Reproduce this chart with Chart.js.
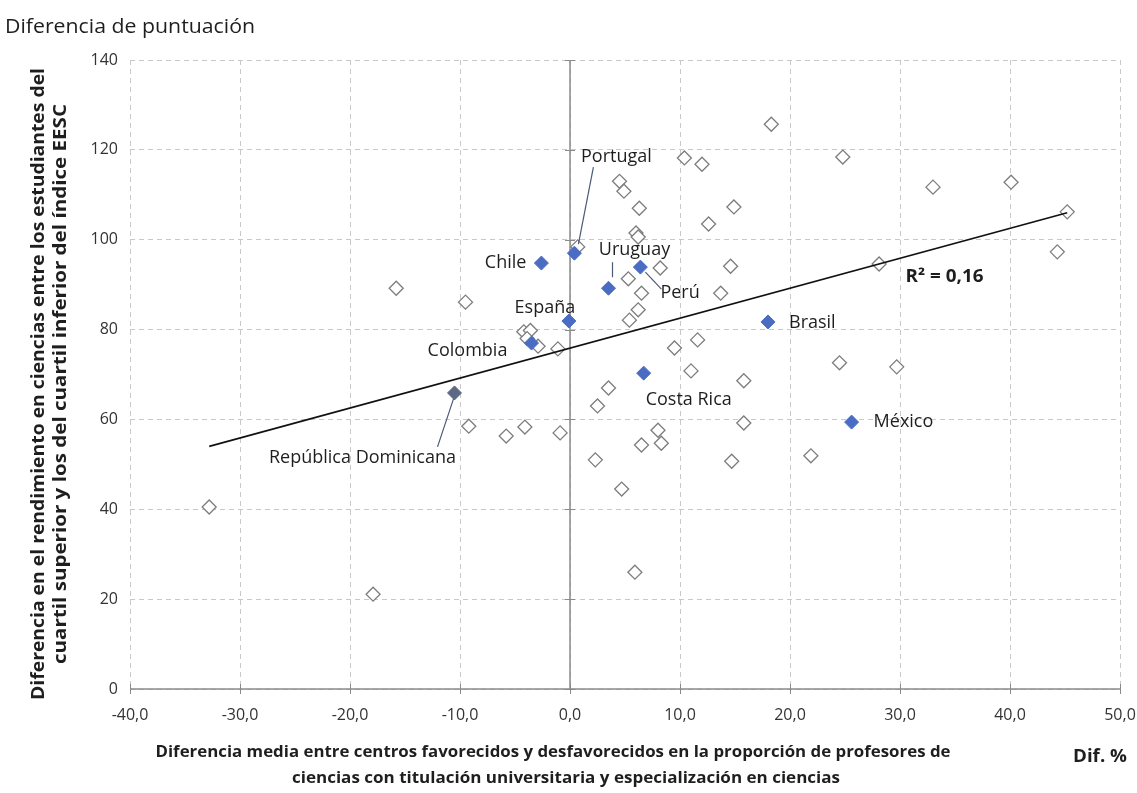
<!DOCTYPE html>
<html>
<head>
<meta charset="utf-8">
<script src="https://cdn.jsdelivr.net/npm/chart.js@4/dist/chart.umd.min.js"></script>
<style>
  html, body { margin: 0; padding: 0; background: #ffffff; }
  #wrap { width: 1137px; height: 793px; position: relative; }
</style>
</head>
<body>
<div id="wrap"><canvas id="chart" width="1137" height="793"></canvas></div>
<script>
// Axis ticks
const xTickValues = [-40, -30, -20, -10, 0, 10, 20, 30, 40, 50];
const yTickValues = [0, 20, 40, 60, 80, 100, 120, 140];

// Other countries (unlabelled): difference in % of qualified science teachers vs score gap
const otherX = [-32.8, -17.9, -15.8, -9.5, -9.2, -5.8, -4.1, -0.9, -1.1, -4.2, -3.6, -3.9, -2.9,
                0.7, 4.5, 4.9, 6.3, 6.0, 6.2, 10.4, 12.0, 14.9, 12.6, 8.2, 5.3, 6.5, 14.6, 13.7,
                6.2, 5.4, 3.5, 2.5, 2.3, 4.7, 5.9, 9.5, 11.6, 11.0, 15.8, 8.0, 6.5, 8.3, 15.8,
                14.7, 18.3, 24.8, 33.0, 40.1, 45.2, 44.3, 28.1, 24.5, 29.7, 21.9];
const otherY = [40.5, 21.1, 89.2, 86.1, 58.5, 56.3, 58.3, 57.0, 75.7, 79.5, 79.8, 78.0, 76.3,
                98.4, 113.0, 110.8, 107.0, 101.5, 100.6, 118.2, 116.8, 107.3, 103.5, 93.7, 91.3, 88.1, 94.1, 88.1,
                84.4, 82.1, 67.0, 63.0, 51.0, 44.5, 26.0, 75.9, 77.7, 70.8, 68.6, 57.6, 54.3, 54.7, 59.2,
                50.7, 125.7, 118.4, 111.7, 112.8, 106.2, 97.3, 94.6, 72.6, 71.7, 51.9];

// Highlighted countries
const countryNames = ['Chile', 'Portugal', 'Uruguay', 'Perú', 'España', 'Colombia',
                      'Costa Rica', 'Brasil', 'México', 'República Dominicana'];
const countryX = [-2.6, 0.4, 3.5, 6.4, -0.1, -3.5, 6.7, 18.0, 25.6, -10.5];
const countryY = [94.8, 97.0, 89.2, 93.9, 81.9, 77.0, 70.3, 81.7, 59.4, 65.9];

// Linear trend line (endpoints) and its fit
const trendX = [-32.8, 45.2];
const trendY = [54.0, 106.0];
const trendR2 = '0,16';

const FONT = '"Open Sans", "DejaVu Sans", sans-serif';
const BLUE = '#4a6cc2';
const SLATE = '#5c6984';
const TEXT = '#1e1e1e';

// Placement of the country name labels around their markers
const labelPlacement = {
  'Chile':      { dx: -15, dy: 0, align: 'right' },
  'Portugal':   { dx: 42, dy: -96, align: 'center', leader: [4, -9, 19, -86] },
  'Uruguay':    { dx: 26, dy: -38, align: 'center', leader: [4, -11, 4, -26] },
  'Perú':       { dx: 20, dy: 26, align: 'left', leader: [5, 5, 21, 22] },
  'España':     { dx: -24, dy: -13, align: 'center' },
  'Colombia':   { dx: -64, dy: 8, align: 'center' },
  'Costa Rica': { dx: 45, dy: 27, align: 'center' },
  'Brasil':     { dx: 21, dy: 1, align: 'left' },
  'México':     { dx: 22, dy: 0, align: 'left' },
  'República Dominicana': { dx: -92, dy: 65, align: 'center', leader: [-1, 6, -17, 54] }
};

const fmtX = v => v.toFixed(1).replace('.', ',');

// Draws a text line at a given size, condensed or widened to span the given width
function fittedText(ctx, text, x, y, width, weight, size, align) {
  ctx.font = weight + ' ' + size + 'px ' + FONT;
  const sx = width / ctx.measureText(text).width;
  ctx.save();
  ctx.translate(x, y);
  ctx.scale(sx, 1);
  ctx.textAlign = align;
  ctx.fillText(text, 0, 0);
  ctx.restore();
}

const decorations = {
  id: 'decorations',
  beforeDatasetsDraw(chart) {
    const { ctx, chartArea: a, scales: { x, y } } = chart;
    const x0 = x.getPixelForValue(0);
    const y0 = y.getPixelForValue(0);
    ctx.save();
    ctx.strokeStyle = '#8a8a8a';
    ctx.lineWidth = 1.5;
    ctx.beginPath();
    ctx.moveTo(x0, a.top); ctx.lineTo(x0, a.bottom);
    ctx.moveTo(a.left, y0); ctx.lineTo(a.right, y0);
    ctx.stroke();
    ctx.lineWidth = 1;
    ctx.beginPath();
    xTickValues.forEach(v => {
      const px = Math.round(x.getPixelForValue(v)) + 0.5;
      ctx.moveTo(px, y0 - 5); ctx.lineTo(px, y0 + 5);
    });
    yTickValues.forEach(v => {
      const py = Math.round(y.getPixelForValue(v)) + 0.5;
      ctx.moveTo(x0 - 5, py); ctx.lineTo(x0 + 5, py);
    });
    ctx.stroke();
    ctx.restore();
  },
  afterDatasetsDraw(chart) {
    const { ctx, scales: { x, y } } = chart;
    ctx.save();
    ctx.fillStyle = TEXT;
    ctx.textBaseline = 'middle';
    ctx.font = '18px ' + FONT;
    countryNames.forEach((name, i) => {
      const px = x.getPixelForValue(countryX[i]);
      const py = y.getPixelForValue(countryY[i]);
      const p = labelPlacement[name];
      if (p.leader) {
        ctx.strokeStyle = '#4a5a78';
        ctx.lineWidth = 1.2;
        ctx.beginPath();
        ctx.moveTo(px + p.leader[0], py + p.leader[1]);
        ctx.lineTo(px + p.leader[2], py + p.leader[3]);
        ctx.stroke();
      }
      ctx.textAlign = p.align;
      ctx.fillText(name, px + p.dx, py + p.dy);
    });

    // R² of the trend line
    fittedText(ctx, 'R² = ' + trendR2, x.getPixelForValue(30.5), y.getPixelForValue(91.7), 78, 'bold', 17, 'left');

    // Titles
    fittedText(ctx, 'Diferencia de puntuación', 5, 27, 250, 'normal', 20, 'left');
    fittedText(ctx, 'Diferencia media entre centros favorecidos y desfavorecidos en la proporción de profesores de', 553, 752, 795, 'bold', 16.5, 'center');
    fittedText(ctx, 'ciencias con titulación universitaria y especialización en ciencias', 566, 778, 548, 'bold', 16.5, 'center');
    fittedText(ctx, 'Dif. %', 1100, 757, 54, 'bold', 17, 'center');

    ctx.save();
    ctx.translate(39, 384);
    ctx.rotate(-Math.PI / 2);
    fittedText(ctx, 'Diferencia en el rendimiento en ciencias entre los estudiantes del', 0, 0, 632, 'bold', 17.5, 'center');
    fittedText(ctx, 'cuartil superior y los del cuartil inferior del índice EESC', 0, 22, 560, 'bold', 17.5, 'center');
    ctx.restore();
    ctx.restore();
  }
};

new Chart(document.getElementById('chart'), {
  type: 'scatter',
  data: {
    datasets: [
      {
        label: 'Países destacados',
        data: countryX.map((v, i) => ({ x: v, y: countryY[i] })),
        pointStyle: 'rectRot',
        pointRadius: 7,
        pointBackgroundColor: ctx => countryNames[ctx.dataIndex] === 'República Dominicana' ? SLATE : BLUE,
        pointBorderColor: ctx => countryNames[ctx.dataIndex] === 'República Dominicana' ? SLATE : BLUE,
        pointBorderWidth: 1,
        order: 1
      },
      {
        label: 'Tendencia',
        data: trendX.map((v, i) => ({ x: v, y: trendY[i] })),
        showLine: true,
        borderColor: '#111111',
        borderWidth: 1.6,
        pointRadius: 0,
        order: 2
      },
      {
        label: 'Otros países',
        data: otherX.map((v, i) => ({ x: v, y: otherY[i] })),
        pointStyle: 'rectRot',
        pointRadius: 7,
        pointBackgroundColor: '#ffffff',
        pointBorderColor: '#7d7d7d',
        pointBorderWidth: 1.3,
        order: 3
      }
    ]
  },
  options: {
    responsive: false,
    devicePixelRatio: 1,
    animation: false,
    layout: { padding: { top: 60, right: 17, left: 0, bottom: 0 } },
    plugins: { legend: { display: false }, tooltip: { enabled: false } },
    scales: {
      x: {
        type: 'linear',
        min: -40, max: 50,
        afterBuildTicks: s => { s.ticks = xTickValues.map(v => ({ value: v })); },
        afterFit: s => { s.height = 104; s.paddingLeft = 0; s.paddingRight = 0; },
        ticks: { callback: v => fmtX(v), font: { family: FONT, size: 16 }, color: '#333333', padding: 17, maxRotation: 0 },
        grid: { color: '#c9c9c9', lineWidth: 1, drawTicks: false },
        border: { display: false, dash: [5, 4] }
      },
      y: {
        type: 'linear',
        min: 0, max: 140,
        afterBuildTicks: s => { s.ticks = yTickValues.map(v => ({ value: v })); },
        afterFit: s => { s.width = 130; s.paddingTop = 0; s.paddingBottom = 0; },
        ticks: { font: { family: FONT, size: 16 }, color: '#333333', padding: 12 },
        grid: { color: '#c9c9c9', lineWidth: 1, drawTicks: false },
        border: { display: false, dash: [5, 4] }
      }
    }
  },
  plugins: [decorations]
});
</script>
</body>
</html>
